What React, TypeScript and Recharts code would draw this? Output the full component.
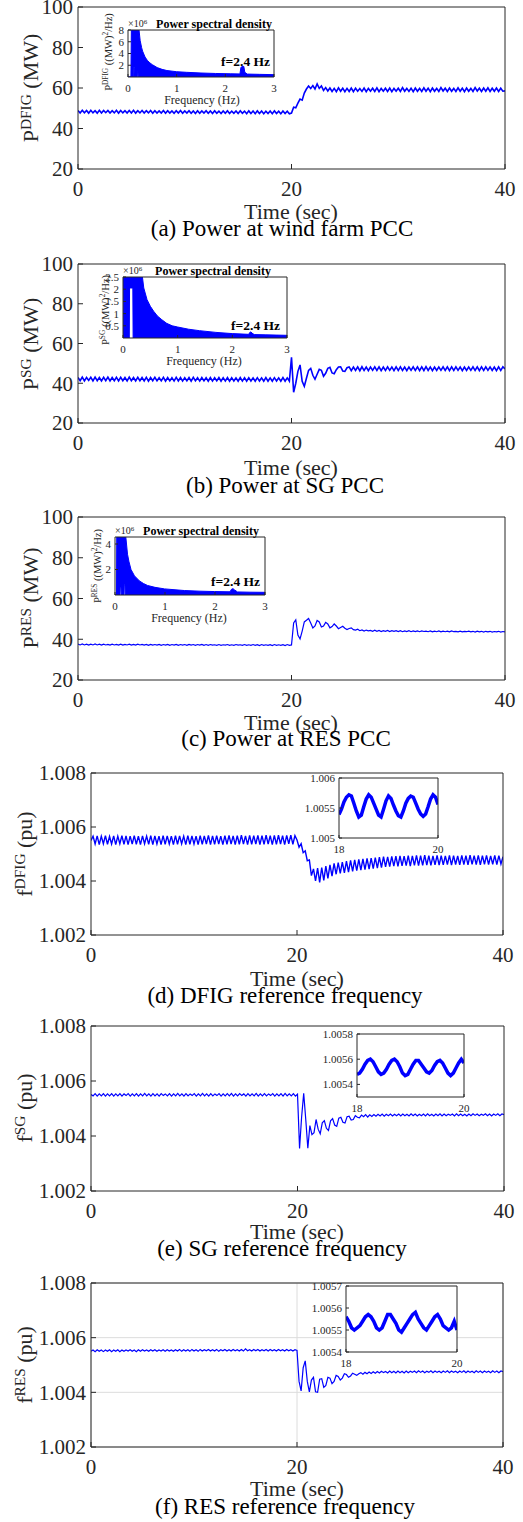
import { LineChart, Line, AreaChart, Area, XAxis, YAxis, CartesianGrid } from "recharts";
import type { ReactNode } from "react";

const FONT = '"Liberation Serif", "Times New Roman", serif';
const INK = "#262626";
const BLUE = "#0000ff";

const STEP = 0.2; // sampling of the main traces (s)
const INSET_STEP = 0.05; // sampling of the zoom insets (s)
const EVENT_T = 20;

// ---- main traces, before (0..19.8 s) and after (20..40 s) the event ----
const pDfigPre = [
  48.9, 47.7, 49.0, 47.8, 48.9, 47.6, 49.0, 47.7, 48.8, 47.6,
  49.0, 47.7, 48.9, 47.8, 48.9, 47.6, 48.8, 47.7, 49.0, 47.6,
  48.9, 47.7, 48.8, 47.6, 48.9, 47.7, 49.0, 47.6, 48.8, 47.7,
  48.9, 47.6, 48.8, 47.7, 48.9, 47.5, 48.8, 47.6, 48.7, 47.6,
  48.9, 47.5, 48.8, 47.6, 48.7, 47.5, 48.8, 47.6, 48.9, 47.5,
  48.7, 47.6, 48.8, 47.5, 48.7, 47.4, 48.8, 47.5, 48.7, 47.6,
  48.8, 47.5, 48.7, 47.4, 48.8, 47.5, 48.6, 47.4, 48.7, 47.5,
  48.8, 47.4, 48.6, 47.5, 48.7, 47.4, 48.8, 47.5, 48.6, 47.3,
  48.7, 47.4, 48.6, 47.3, 48.7, 47.4, 48.6, 47.3, 48.5, 47.4,
  48.6, 47.3, 48.7, 47.4, 48.5, 47.3, 48.6, 47.4, 48.5, 47.3,
];
const pDfigPost = [
  47.6, 50.5, 50.2, 52.5, 54.5, 54.0, 57.5, 59.5, 61.0, 59.8,
  61.2, 59.5, 62.0, 59.8, 61.0, 58.8, 60.2, 58.5, 60.0, 58.3,
  59.8, 58.2, 60.1, 58.4, 59.9, 58.2, 59.8, 58.3, 60.0, 58.2,
  59.9, 58.4, 59.7, 58.3, 60.0, 58.2, 59.8, 58.4, 59.9, 58.3,
  60.1, 58.2, 59.8, 58.4, 59.9, 58.3, 60.0, 58.2, 59.8, 58.4,
  59.9, 58.3, 60.2, 58.4, 59.8, 58.3, 59.9, 58.2, 60.0, 58.4,
  59.8, 58.3, 60.1, 58.4, 59.9, 58.2, 60.0, 58.4, 59.8, 58.3,
  60.2, 58.5, 59.9, 58.3, 60.0, 58.4, 59.8, 58.3, 60.1, 58.4,
  59.9, 58.2, 60.0, 58.4, 59.8, 58.3, 60.2, 58.5, 59.9, 58.3,
  60.0, 58.4, 60.1, 58.3, 59.9, 58.4, 60.0, 58.3, 59.9, 58.4,
  58.6,
];

const pSgPre = [
  42.9, 41.3, 43.1, 41.2, 42.9, 41.4, 43.0, 41.2, 43.1, 41.3,
  42.9, 41.2, 43.0, 41.3, 43.1, 41.2, 42.9, 41.3, 43.0, 41.2,
  43.0, 41.3, 42.9, 41.2, 43.1, 41.3, 42.9, 41.2, 43.0, 41.3,
  42.9, 41.2, 43.0, 41.1, 42.9, 41.3, 43.0, 41.2, 42.8, 41.2,
  43.0, 41.1, 42.9, 41.2, 42.8, 41.1, 43.0, 41.2, 42.9, 41.1,
  42.8, 41.2, 42.9, 41.1, 43.0, 41.2, 42.8, 41.1, 42.9, 41.2,
  42.8, 41.0, 42.9, 41.1, 42.8, 41.2, 42.9, 41.0, 42.8, 41.1,
  42.9, 41.0, 42.8, 41.1, 42.7, 41.0, 42.9, 41.1, 42.8, 41.0,
  42.8, 41.1, 42.7, 41.0, 42.8, 41.1, 42.7, 41.0, 42.8, 41.0,
  42.7, 41.0, 42.8, 41.1, 42.7, 41.0, 42.8, 41.0, 42.7, 41.1,
];
const pSgPost = [
  53.0, 35.5, 40.0, 46.0, 49.2, 41.0, 38.5, 42.5, 46.5, 47.5,
  44.0, 42.0, 44.5, 47.0, 46.5, 43.5, 45.0, 47.5, 48.0, 45.2,
  44.8, 46.8, 48.2, 48.3, 46.2, 46.0, 47.8, 48.2, 46.3, 48.1,
  46.4, 48.2, 46.3, 48.3, 46.4, 48.1, 46.3, 48.2, 46.5, 48.3,
  46.4, 48.2, 46.3, 48.1, 46.4, 48.3, 46.5, 48.2, 46.3, 48.2,
  46.4, 48.3, 46.4, 48.1, 46.3, 48.2, 46.5, 48.3, 46.4, 48.2,
  46.3, 48.2, 46.4, 48.4, 46.5, 48.2, 46.3, 48.1, 46.4, 48.2,
  46.5, 48.3, 46.4, 48.2, 46.3, 48.2, 46.4, 48.3, 46.5, 48.2,
  46.3, 48.1, 46.4, 48.2, 46.5, 48.3, 46.4, 48.2, 46.3, 48.2,
  46.4, 48.3, 46.5, 48.2, 46.4, 48.1, 46.3, 48.2, 46.4, 48.3,
  47.2,
];

const pResPre = [
  37.6, 37.2, 37.7, 37.2, 37.6, 37.1, 37.6, 37.2, 37.7, 37.2,
  37.6, 37.1, 37.6, 37.2, 37.5, 37.1, 37.6, 37.2, 37.5, 37.1,
  37.6, 37.1, 37.5, 37.2, 37.6, 37.1, 37.5, 37.1, 37.6, 37.2,
  37.5, 37.1, 37.5, 37.0, 37.5, 37.1, 37.4, 37.1, 37.5, 37.0,
  37.4, 37.1, 37.5, 37.0, 37.4, 37.1, 37.5, 37.0, 37.4, 37.1,
  37.4, 37.0, 37.5, 37.1, 37.4, 37.0, 37.4, 37.1, 37.5, 37.0,
  37.4, 37.0, 37.4, 37.1, 37.3, 37.0, 37.4, 37.0, 37.3, 37.1,
  37.4, 37.0, 37.3, 37.0, 37.4, 37.1, 37.3, 37.0, 37.4, 37.0,
  37.3, 37.0, 37.4, 37.0, 37.3, 36.9, 37.4, 37.0, 37.3, 37.0,
  37.3, 36.9, 37.4, 37.0, 37.3, 37.0, 37.3, 36.9, 37.4, 37.0,
];
const pResPost = [
  37.2, 48.0, 49.5, 42.0, 40.2, 44.0, 48.5, 49.3, 50.2, 48.0,
  45.5, 46.5, 49.2, 48.5, 46.0, 46.5, 48.3, 47.5, 45.6, 46.2,
  47.5, 46.5, 45.2, 45.8, 46.4, 45.4, 44.8, 45.3, 45.6, 44.7,
  44.5, 44.9, 44.2, 44.6, 44.0, 44.5, 44.1, 44.3, 43.9, 44.4,
  43.9, 44.3, 43.8, 44.2, 43.9, 44.3, 43.8, 44.2, 43.9, 44.2,
  43.8, 44.2, 43.7, 44.1, 43.8, 44.2, 43.7, 44.1, 43.8, 44.1,
  43.7, 44.1, 43.8, 44.0, 43.7, 44.1, 43.6, 44.0, 43.7, 44.1,
  43.6, 44.0, 43.7, 44.0, 43.6, 44.1, 43.7, 43.9, 43.6, 44.0,
  43.6, 43.9, 43.7, 44.0, 43.6, 43.9, 43.5, 44.0, 43.6, 43.9,
  43.5, 43.9, 43.6, 43.9, 43.5, 43.8, 43.6, 43.9, 43.5, 43.8,
  43.6,
];

const fDfigPre = [
  1.00550, 1.00566, 1.00537, 1.00567, 1.00535, 1.00566, 1.00538, 1.00568, 1.00536, 1.00565,
  1.00537, 1.00567, 1.00535, 1.00566, 1.00538, 1.00568, 1.00536, 1.00567, 1.00535, 1.00566,
  1.00537, 1.00568, 1.00536, 1.00566, 1.00535, 1.00567, 1.00538, 1.00566, 1.00536, 1.00568,
  1.00535, 1.00567, 1.00537, 1.00566, 1.00535, 1.00568, 1.00536, 1.00567, 1.00537, 1.00566,
  1.00535, 1.00568, 1.00536, 1.00567, 1.00538, 1.00566, 1.00535, 1.00568, 1.00536, 1.00567,
  1.00537, 1.00566, 1.00535, 1.00568, 1.00536, 1.00567, 1.00537, 1.00569, 1.00535, 1.00567,
  1.00536, 1.00568, 1.00537, 1.00566, 1.00535, 1.00568, 1.00536, 1.00569, 1.00537, 1.00567,
  1.00535, 1.00568, 1.00536, 1.00570, 1.00537, 1.00567, 1.00535, 1.00569, 1.00536, 1.00568,
  1.00537, 1.00569, 1.00535, 1.00568, 1.00536, 1.00570, 1.00537, 1.00568, 1.00535, 1.00569,
  1.00536, 1.00570, 1.00537, 1.00568, 1.00535, 1.00569, 1.00538, 1.00570, 1.00536, 1.00568,
];
const fDfigPost = [
  1.00552, 1.00525, 1.00538, 1.00505, 1.00512, 1.00475, 1.00478, 1.00420, 1.00445, 1.00400,
  1.00448, 1.00395, 1.00450, 1.00402, 1.00455, 1.00410, 1.00460, 1.00418, 1.00465, 1.00425,
  1.00468, 1.00428, 1.00470, 1.00430, 1.00474, 1.00433, 1.00476, 1.00436, 1.00478, 1.00438,
  1.00480, 1.00440, 1.00482, 1.00442, 1.00484, 1.00444, 1.00485, 1.00446, 1.00487, 1.00448,
  1.00488, 1.00450, 1.00490, 1.00452, 1.00489, 1.00453, 1.00491, 1.00455, 1.00492, 1.00454,
  1.00493, 1.00456, 1.00492, 1.00457, 1.00494, 1.00455, 1.00493, 1.00458, 1.00495, 1.00457,
  1.00494, 1.00458, 1.00496, 1.00459, 1.00494, 1.00458, 1.00493, 1.00460, 1.00495, 1.00459,
  1.00494, 1.00460, 1.00493, 1.00461, 1.00495, 1.00459, 1.00494, 1.00461, 1.00493, 1.00460,
  1.00495, 1.00461, 1.00494, 1.00460, 1.00496, 1.00462, 1.00494, 1.00461, 1.00495, 1.00460,
  1.00494, 1.00462, 1.00495, 1.00461, 1.00493, 1.00462, 1.00495, 1.00461, 1.00494, 1.00463,
  1.00490,
];

const fSgPre = [
  1.00551, 1.00546, 1.00554, 1.00545, 1.00553, 1.00546, 1.00554, 1.00545, 1.00553, 1.00546,
  1.00554, 1.00545, 1.00553, 1.00546, 1.00554, 1.00545, 1.00553, 1.00547, 1.00554, 1.00545,
  1.00553, 1.00546, 1.00554, 1.00545, 1.00553, 1.00546, 1.00555, 1.00546, 1.00553, 1.00545,
  1.00554, 1.00546, 1.00553, 1.00545, 1.00554, 1.00547, 1.00553, 1.00546, 1.00554, 1.00545,
  1.00553, 1.00546, 1.00555, 1.00546, 1.00553, 1.00545, 1.00554, 1.00546, 1.00553, 1.00547,
  1.00554, 1.00545, 1.00553, 1.00546, 1.00555, 1.00546, 1.00553, 1.00545, 1.00554, 1.00546,
  1.00553, 1.00547, 1.00554, 1.00545, 1.00553, 1.00546, 1.00554, 1.00546, 1.00555, 1.00545,
  1.00553, 1.00546, 1.00554, 1.00547, 1.00553, 1.00545, 1.00554, 1.00546, 1.00553, 1.00546,
  1.00555, 1.00545, 1.00553, 1.00546, 1.00554, 1.00546, 1.00553, 1.00547, 1.00554, 1.00545,
  1.00553, 1.00546, 1.00554, 1.00545, 1.00555, 1.00546, 1.00553, 1.00546, 1.00554, 1.00545,
];
const fSgPost = [
  1.00552, 1.00355, 1.00470, 1.00555, 1.00460, 1.00356, 1.00438, 1.00405, 1.00412, 1.00460,
  1.00425, 1.00408, 1.00448, 1.00456, 1.00428, 1.00420, 1.00455, 1.00463, 1.00440, 1.00435,
  1.00465, 1.00468, 1.00450, 1.00447, 1.00470, 1.00472, 1.00458, 1.00460, 1.00474, 1.00468,
  1.00466, 1.00476, 1.00470, 1.00478, 1.00469, 1.00477, 1.00471, 1.00478, 1.00472, 1.00479,
  1.00473, 1.00480, 1.00472, 1.00479, 1.00474, 1.00480, 1.00473, 1.00479, 1.00474, 1.00480,
  1.00473, 1.00480, 1.00474, 1.00479, 1.00473, 1.00481, 1.00474, 1.00480, 1.00473, 1.00479,
  1.00474, 1.00480, 1.00473, 1.00481, 1.00474, 1.00479, 1.00473, 1.00480, 1.00474, 1.00481,
  1.00473, 1.00480, 1.00474, 1.00479, 1.00475, 1.00480, 1.00473, 1.00481, 1.00474, 1.00480,
  1.00474, 1.00479, 1.00473, 1.00480, 1.00474, 1.00481, 1.00475, 1.00480, 1.00474, 1.00479,
  1.00475, 1.00481, 1.00474, 1.00480, 1.00473, 1.00480, 1.00475, 1.00481, 1.00474, 1.00480,
  1.00478,
];

const fResPre = [
  1.00550, 1.00555, 1.00549, 1.00556, 1.00550, 1.00555, 1.00549, 1.00555, 1.00550, 1.00556,
  1.00549, 1.00555, 1.00550, 1.00556, 1.00549, 1.00555, 1.00550, 1.00555, 1.00551, 1.00556,
  1.00550, 1.00555, 1.00549, 1.00556, 1.00550, 1.00556, 1.00551, 1.00555, 1.00550, 1.00556,
  1.00551, 1.00556, 1.00550, 1.00555, 1.00551, 1.00556, 1.00550, 1.00556, 1.00551, 1.00555,
  1.00550, 1.00556, 1.00551, 1.00557, 1.00550, 1.00556, 1.00551, 1.00556, 1.00550, 1.00557,
  1.00551, 1.00556, 1.00550, 1.00557, 1.00551, 1.00556, 1.00552, 1.00557, 1.00551, 1.00556,
  1.00551, 1.00557, 1.00550, 1.00556, 1.00552, 1.00557, 1.00551, 1.00556, 1.00551, 1.00557,
  1.00552, 1.00556, 1.00551, 1.00557, 1.00551, 1.00559, 1.00552, 1.00556, 1.00551, 1.00557,
  1.00552, 1.00557, 1.00551, 1.00556, 1.00552, 1.00557, 1.00551, 1.00557, 1.00552, 1.00556,
  1.00551, 1.00557, 1.00552, 1.00556, 1.00551, 1.00557, 1.00552, 1.00556, 1.00551, 1.00556,
];
const fResPost = [
  1.00553, 1.00440, 1.00405, 1.00490, 1.00515, 1.00440, 1.00402, 1.00445, 1.00455, 1.00402,
  1.00400, 1.00448, 1.00450, 1.00418, 1.00425, 1.00455, 1.00452, 1.00432, 1.00440, 1.00462,
  1.00458, 1.00445, 1.00452, 1.00468, 1.00465, 1.00455, 1.00460, 1.00470, 1.00466, 1.00462,
  1.00468, 1.00472, 1.00466, 1.00473, 1.00468, 1.00474, 1.00469, 1.00475, 1.00470, 1.00476,
  1.00471, 1.00477, 1.00472, 1.00476, 1.00471, 1.00478, 1.00472, 1.00477, 1.00471, 1.00478,
  1.00472, 1.00477, 1.00471, 1.00478, 1.00472, 1.00477, 1.00473, 1.00478, 1.00472, 1.00479,
  1.00473, 1.00478, 1.00472, 1.00477, 1.00473, 1.00479, 1.00472, 1.00478, 1.00473, 1.00477,
  1.00472, 1.00478, 1.00473, 1.00479, 1.00472, 1.00478, 1.00473, 1.00477, 1.00472, 1.00478,
  1.00473, 1.00479, 1.00472, 1.00478, 1.00473, 1.00477, 1.00472, 1.00479, 1.00473, 1.00478,
  1.00472, 1.00478, 1.00473, 1.00477, 1.00472, 1.00479, 1.00473, 1.00478, 1.00472, 1.00478,
  1.00476,
];

// ---- zoom insets, 18..20 s ----
const zoomDfig = [
  1.00539, 1.00548, 1.00560, 1.00568, 1.00572, 1.00570, 1.00558, 1.00545, 1.00535, 1.00538,
  1.00552, 1.00565, 1.00572, 1.00568, 1.00558, 1.00548, 1.00538, 1.00535, 1.00548, 1.00562,
  1.00570, 1.00566, 1.00555, 1.00545, 1.00537, 1.00535, 1.00545, 1.00558, 1.00566, 1.00570,
  1.00568, 1.00558, 1.00548, 1.00540, 1.00536, 1.00540, 1.00552, 1.00565, 1.00572, 1.00568,
  1.00556,
];
const zoomSg = [
  1.00548, 1.00549, 1.00552, 1.00556, 1.00559, 1.00560, 1.00558, 1.00554, 1.00550, 1.00548,
  1.00549, 1.00552, 1.00556, 1.00559, 1.00560, 1.00558, 1.00554, 1.00549, 1.00547, 1.00548,
  1.00552, 1.00556, 1.00559, 1.00559, 1.00556, 1.00553, 1.00550, 1.00549, 1.00551, 1.00555,
  1.00558, 1.00559, 1.00557, 1.00553, 1.00549, 1.00547, 1.00549, 1.00553, 1.00557, 1.00560,
  1.00557,
];
const zoomRes = [
  1.00556, 1.00554, 1.00551, 1.00550, 1.00551, 1.00552, 1.00554, 1.00556, 1.00557, 1.00556,
  1.00554, 1.00551, 1.00550, 1.00551, 1.00554, 1.00557, 1.00557, 1.00555, 1.00553, 1.00550,
  1.00549, 1.00551, 1.00553, 1.00555, 1.00557, 1.00558, 1.00555, 1.00553, 1.00551, 1.00550,
  1.00552, 1.00554, 1.00556, 1.00557, 1.00555, 1.00552, 1.00551, 1.00550, 1.00551, 1.00554,
  1.00550,
];

// ---- power spectral density insets (x10^6 (MW)^2/Hz) ----
const psdFreqA = [0, 0.06, 0.07, 0.115, 0.12, 0.13, 0.135, 0.19, 0.195, 0.205, 0.21, 0.22, 0.25, 0.28, 0.3, 0.35, 0.4, 0.45, 0.5, 0.6, 0.7, 0.8, 1.0, 1.2, 1.5, 1.8, 2.1, 2.3, 2.32, 2.34, 2.38, 2.4, 2.45, 2.7, 3.0];
const psdHighA = [0, 0, 9, 9, 9, 9, 9, 9, 9, 9, 9, 8.5, 6.2, 5.0, 4.4, 3.4, 2.8, 2.4, 2.1, 1.6, 1.3, 1.1, 0.9, 0.8, 0.68, 0.6, 0.55, 0.52, 1.6, 1.8, 1.8, 0.8, 0.5, 0.45, 0.4];
const psdLowA = [0, 0, 0, 0, 1.6, 1.6, 0, 0, 1.0, 1.0, 0, 0, 0, 0, 0, 0, 0, 0, 0, 0, 0, 0, 0, 0, 0, 0, 0, 0, 0, 0, 0, 0, 0, 0, 0];

const psdFreqB = [0, 0.01, 0.115, 0.12, 0.18, 0.185, 0.3, 0.35, 0.38, 0.44, 0.5, 0.56, 0.63, 0.71, 0.8, 0.9, 1.0, 1.2, 1.4, 1.7, 2.0, 2.3, 2.32, 2.34, 2.36, 2.4, 2.6, 2.8, 3.0];
const psdHighB = [0, 3, 3, 3, 3, 3, 3, 2.6, 2.05, 1.57, 1.3, 1.1, 0.9, 0.75, 0.6, 0.5, 0.45, 0.36, 0.3, 0.23, 0.18, 0.15, 0.23, 0.25, 0.2, 0.14, 0.13, 0.12, 0.11];
const psdLowB = [0, 0, 0, 2.05, 2.05, 0, 0, 0, 0, 0, 0, 0, 0, 0, 0, 0, 0, 0, 0, 0, 0, 0, 0, 0, 0, 0, 0, 0, 0];

const psdFreqC = [0, 0.03, 0.035, 0.1, 0.105, 0.12, 0.125, 0.18, 0.185, 0.2, 0.205, 0.22, 0.25, 0.28, 0.32, 0.39, 0.49, 0.57, 0.65, 0.8, 0.99, 1.2, 1.39, 1.7, 1.99, 2.3, 2.33, 2.36, 2.39, 2.45, 2.7, 3.0];
const psdHighC = [0, 0, 5, 5, 5, 5, 5, 5, 5, 5, 5, 4.4, 3.2, 2.6, 2.0, 1.5, 1.1, 0.9, 0.75, 0.6, 0.48, 0.41, 0.35, 0.3, 0.27, 0.25, 0.45, 0.5, 0.4, 0.24, 0.22, 0.21];
const psdLowC = [0, 0, 0, 0, 0.6, 0.6, 0, 0, 0.8, 0.8, 0, 0, 0, 0, 0, 0, 0, 0, 0, 0, 0, 0, 0, 0, 0, 0, 0, 0, 0, 0, 0, 0];

const timeTicks = [0, 20, 40];
const powerTicks = [20, 40, 60, 80, 100];
const freqTicks = [1.002, 1.004, 1.006, 1.008];
const psdXTicks = [0, 1, 2, 3];

type Box = { l: number; t: number; r: number; b: number };

function traceRows(pre: number[], post: number[]) {
  const a = pre.map((v, i) => ({ t: +(i * STEP).toFixed(2), v }));
  const b = post.map((v, i) => ({ t: +(EVENT_T + i * STEP).toFixed(2), v }));
  return a.concat(b);
}
function zoomRows(vals: number[]) {
  return vals.map((v, i) => ({ t: +(18 + i * INSET_STEP).toFixed(2), v }));
}
function psdRows(f: number[], lo: number[], hi: number[]) {
  return f.map((x, i) => ({ f: x, r: [lo[i], hi[i]] }));
}

const fmtPow = (v: number) => String(v);
const fmtFreq = (v: number) => v.toFixed(3);
const fmtSmall = (v: number) => String(+v.toFixed(4));

function Txt(props: { x: number; y: number; size: number; children: ReactNode; bold?: boolean; anchor?: "start" | "middle" | "end"; rotate?: boolean; color?: string }) {
  const { x, y, size, children, bold, anchor = "middle", rotate, color = INK } = props;
  const tx = anchor === "middle" ? "-50%" : anchor === "end" ? "-100%" : "0";
  return (
    <div style={{
      position: "absolute", left: x, top: y, whiteSpace: "nowrap", lineHeight: 1,
      fontFamily: FONT, fontSize: size, fontWeight: bold ? "bold" : "normal", color,
      transform: `translate(${tx},-50%)${rotate ? " rotate(-90deg)" : ""}`,
    }}>{children}</div>
  );
}

const Sup = ({ children }: { children: ReactNode }) => (
  <span style={{ fontSize: "0.7em", verticalAlign: "0.5em" }}>{children}</span>
);

function MainPlot(props: { box: Box; rows: { t: number; v: number }[]; yDomain: [number, number]; yTicks: number[]; fmt: (v: number) => string; sw: number; grid?: boolean }) {
  const { box, rows, yDomain, yTicks, fmt, sw, grid } = props;
  const W = 523, yW = 75, xH = 40, padT = 14;
  const top = box.t - padT;
  const H = box.b - top + xH;
  const tickStyle = { fill: INK, fontSize: 21, fontFamily: FONT };
  return (
    <div style={{ position: "absolute", left: 0, top }}>
      <LineChart width={W} height={H} data={rows} margin={{ top: padT - 1, right: W - box.r - 1, bottom: 0, left: box.l - yW }}>
        {grid && <CartesianGrid stroke="#dcdcdc" strokeWidth={1} />}
        <XAxis dataKey="t" type="number" domain={[0, 40]} ticks={timeTicks} interval={0} allowDataOverflow height={xH} tickSize={-5} tickMargin={17} stroke={INK} tick={tickStyle} />
        <XAxis xAxisId="top" orientation="top" type="number" domain={[0, 40]} ticks={timeTicks} interval={0} allowDataOverflow height={1} tickSize={-5} stroke={INK} tick={false} />
        <YAxis type="number" domain={yDomain} ticks={yTicks} interval={0} allowDataOverflow width={yW} tickSize={-5} tickMargin={10} stroke={INK} tick={tickStyle} tickFormatter={fmt} />
        <YAxis yAxisId="right" orientation="right" type="number" domain={yDomain} ticks={yTicks} interval={0} allowDataOverflow width={1} tickSize={-5} stroke={INK} tick={false} />
        <Line dataKey="v" type="linear" stroke={BLUE} strokeWidth={sw} dot={false} activeDot={false} isAnimationActive={false} />
      </LineChart>
    </div>
  );
}

function PsdInset(props: { box: Box; rows: { f: number; r: number[] }[]; yMax: number; yTicks: number[] }) {
  const { box, rows, yMax, yTicks } = props;
  const padL = 30, padT = 10, padR = 6, padB = 18;
  const w = box.r - box.l, h = box.b - box.t;
  const tickStyle = { fill: INK, fontSize: 11, fontFamily: FONT };
  return (
    <>
      <div style={{ position: "absolute", left: box.l, top: box.t, width: w, height: h, background: "#fff" }} />
      <div style={{ position: "absolute", left: box.l - padL, top: box.t - padT }}>
        <AreaChart width={w + padL + padR} height={h + padT + padB} data={rows} margin={{ top: padT - 1, right: padR - 1, bottom: 0, left: 0 }}>
          <XAxis dataKey="f" type="number" domain={[0, 3]} ticks={psdXTicks} interval={0} allowDataOverflow height={padB} tickSize={-3} tickMargin={10} stroke={INK} tick={tickStyle} />
          <XAxis xAxisId="top" orientation="top" type="number" domain={[0, 3]} ticks={psdXTicks} interval={0} allowDataOverflow height={1} tickSize={-3} stroke={INK} tick={false} />
          <YAxis type="number" domain={[0, yMax]} ticks={yTicks} interval={0} allowDataOverflow width={padL} tickSize={-3} tickMargin={7} stroke={INK} tick={tickStyle} />
          <YAxis yAxisId="right" orientation="right" type="number" domain={[0, yMax]} ticks={yTicks} interval={0} allowDataOverflow width={1} tickSize={-3} stroke={INK} tick={false} />
          <Area dataKey="r" type="linear" stroke={BLUE} strokeWidth={1} fill={BLUE} fillOpacity={1} dot={false} activeDot={false} isAnimationActive={false} />
        </AreaChart>
      </div>
    </>
  );
}

function ZoomInset(props: { box: Box; rows: { t: number; v: number }[]; yDomain: [number, number]; yTicks: number[] }) {
  const { box, rows, yDomain, yTicks } = props;
  const padL = 44, padT = 10, padR = 6, padB = 18;
  const w = box.r - box.l, h = box.b - box.t;
  const tickStyle = { fill: INK, fontSize: 11, fontFamily: FONT };
  return (
    <>
      <div style={{ position: "absolute", left: box.l, top: box.t, width: w, height: h, background: "#fff" }} />
      <div style={{ position: "absolute", left: box.l - padL, top: box.t - padT }}>
        <LineChart width={w + padL + padR} height={h + padT + padB} data={rows} margin={{ top: padT - 1, right: padR - 1, bottom: 0, left: 0 }}>
          <XAxis dataKey="t" type="number" domain={[18, 20]} ticks={[18, 20]} interval={0} allowDataOverflow height={padB} tickSize={-3} tickMargin={10} stroke={INK} tick={tickStyle} />
          <XAxis xAxisId="top" orientation="top" type="number" domain={[18, 20]} ticks={[18, 20]} interval={0} allowDataOverflow height={1} tickSize={-3} stroke={INK} tick={false} />
          <YAxis type="number" domain={yDomain} ticks={yTicks} interval={0} allowDataOverflow width={padL} tickSize={-3} tickMargin={7} stroke={INK} tick={tickStyle} tickFormatter={fmtSmall} />
          <YAxis yAxisId="right" orientation="right" type="number" domain={yDomain} ticks={yTicks} interval={0} allowDataOverflow width={1} tickSize={-3} stroke={INK} tick={false} />
          <Line dataKey="v" type="linear" stroke={BLUE} strokeWidth={3.5} dot={false} activeDot={false} isAnimationActive={false} />
        </LineChart>
      </div>
    </>
  );
}

function PsdLabels(props: { box: Box; name: string; titleX: number; fX: number; fY: number; freqX: number; labX: number; labY: number }) {
  const { box, name, titleX, fX, fY, freqX, labX, labY } = props;
  return (
    <>
      <Txt x={box.l} y={box.t - 6} size={10} anchor="start">×10<Sup>6</Sup></Txt>
      <Txt x={titleX} y={box.t - 6} size={12} bold color="#000">Power spectral density</Txt>
      <Txt x={fX} y={fY} size={13.5} bold anchor="end" color="#000">f=2.4 Hz</Txt>
      <Txt x={freqX} y={box.b + 23} size={12}>Frequency (Hz)</Txt>
      <Txt x={labX} y={labY} size={10.5} rotate>P<Sup>{name}</Sup> ((MW)<Sup>2</Sup>/Hz)</Txt>
    </>
  );
}

function Captions(props: { plotCx: number; timeY: number; capX: number; capY: number; labX: number; labY: number; sym: string; name: string; unit: string; caption: string }) {
  const { plotCx, timeY, capX, capY, labX, labY, sym, name, unit, caption } = props;
  return (
    <>
      <Txt x={labX} y={labY} size={22} rotate>{sym}<Sup>{name}</Sup> ({unit})</Txt>
      <Txt x={plotCx} y={timeY} size={22}>Time (sec)</Txt>
      <Txt x={capX} y={capY} size={23} color="#000">{caption}</Txt>
    </>
  );
}

export default function App() {
  const boxA = { l: 78, t: 7, r: 505, b: 169 };
  const boxB = { l: 78, t: 264, r: 505, b: 423 };
  const boxC = { l: 78, t: 517, r: 505, b: 680 };
  const boxD = { l: 91, t: 773, r: 503, b: 935 };
  const boxE = { l: 91, t: 1026, r: 504, b: 1191 };
  const boxF = { l: 91, t: 1283, r: 503, b: 1447 };

  const inA = { l: 128, t: 30, r: 274, b: 77 };
  const inB = { l: 123, t: 277, r: 287, b: 338 };
  const inC = { l: 115, t: 537, r: 265, b: 595 };
  const inD = { l: 339, t: 778, r: 438, b: 838 };
  const inE = { l: 357, t: 1034, r: 464, b: 1097 };
  const inF = { l: 346, t: 1286, r: 457, b: 1352 };

  return (
    <div style={{ position: "absolute", left: 0, top: 0, width: 523, height: 1522, background: "#fff", overflow: "hidden" }}>
      {/* (a) */}
      <MainPlot box={boxA} rows={traceRows(pDfigPre, pDfigPost)} yDomain={[20, 100]} yTicks={powerTicks} fmt={fmtPow} sw={1.6} />
      <PsdInset box={inA} rows={psdRows(psdFreqA, psdLowA, psdHighA)} yMax={8} yTicks={[2, 4, 6, 8]} />
      <PsdLabels box={inA} name="DFIG" titleX={214} fX={270} fY={62} freqX={202} labX={108} labY={52} />
      <Captions plotCx={291} timeY={212} capX={282} capY={228} labX={30} labY={88} sym="P" name="DFIG" unit="MW" caption="(a) Power at wind farm PCC" />

      {/* (b) */}
      <MainPlot box={boxB} rows={traceRows(pSgPre, pSgPost)} yDomain={[20, 100]} yTicks={powerTicks} fmt={fmtPow} sw={1.6} />
      <PsdInset box={inB} rows={psdRows(psdFreqB, psdLowB, psdHighB)} yMax={2.5} yTicks={[0.5, 1, 1.5, 2, 2.5]} />
      <PsdLabels box={inB} name="SG" titleX={213} fX={280} fY={326} freqX={204} labX={105} labY={310} />
      <Captions plotCx={291} timeY={468} capX={285} capY={485} labX={30} labY={344} sym="P" name="SG" unit="MW" caption="(b) Power at SG PCC" />

      {/* (c) */}
      <MainPlot box={boxC} rows={traceRows(pResPre, pResPost)} yDomain={[20, 100]} yTicks={powerTicks} fmt={fmtPow} sw={1.2} />
      <PsdInset box={inC} rows={psdRows(psdFreqC, psdLowC, psdHighC)} yMax={4.55} yTicks={[2, 4]} />
      <PsdLabels box={inC} name="RES" titleX={201} fX={260} fY={582} freqX={189} labX={97} labY={566} />
      <Captions plotCx={291} timeY={723} capX={286} capY={738} labX={30} labY={598} sym="P" name="RES" unit="MW" caption="(c) Power at RES PCC" />

      {/* (d) */}
      <MainPlot box={boxD} rows={traceRows(fDfigPre, fDfigPost)} yDomain={[1.002, 1.008]} yTicks={freqTicks} fmt={fmtFreq} sw={1.4} />
      <ZoomInset box={inD} rows={zoomRows(zoomDfig)} yDomain={[1.005, 1.006]} yTicks={[1.005, 1.0055, 1.006]} />
      <Captions plotCx={297} timeY={979} capX={285} capY={995} labX={24} labY={854} sym="f" name="DFIG" unit="pu" caption="(d) DFIG reference frequency" />

      {/* (e) */}
      <MainPlot box={boxE} rows={traceRows(fSgPre, fSgPost)} yDomain={[1.002, 1.008]} yTicks={freqTicks} fmt={fmtFreq} sw={1.2} />
      <ZoomInset box={inE} rows={zoomRows(zoomSg)} yDomain={[1.0053, 1.0058]} yTicks={[1.0054, 1.0056, 1.0058]} />
      <Captions plotCx={297} timeY={1232} capX={282} capY={1248} labX={24} labY={1108} sym="f" name="SG" unit="pu" caption="(e) SG reference frequency" />

      {/* (f) */}
      <MainPlot box={boxF} rows={traceRows(fResPre, fResPost)} yDomain={[1.002, 1.008]} yTicks={freqTicks} fmt={fmtFreq} sw={1.2} grid />
      <ZoomInset box={inF} rows={zoomRows(zoomRes)} yDomain={[1.0054, 1.0057]} yTicks={[1.0054, 1.0055, 1.0056, 1.0057]} />
      <Captions plotCx={297} timeY={1489} capX={285} capY={1506} labX={24} labY={1365} sym="f" name="RES" unit="pu" caption="(f) RES reference frequency" />
    </div>
  );
}
